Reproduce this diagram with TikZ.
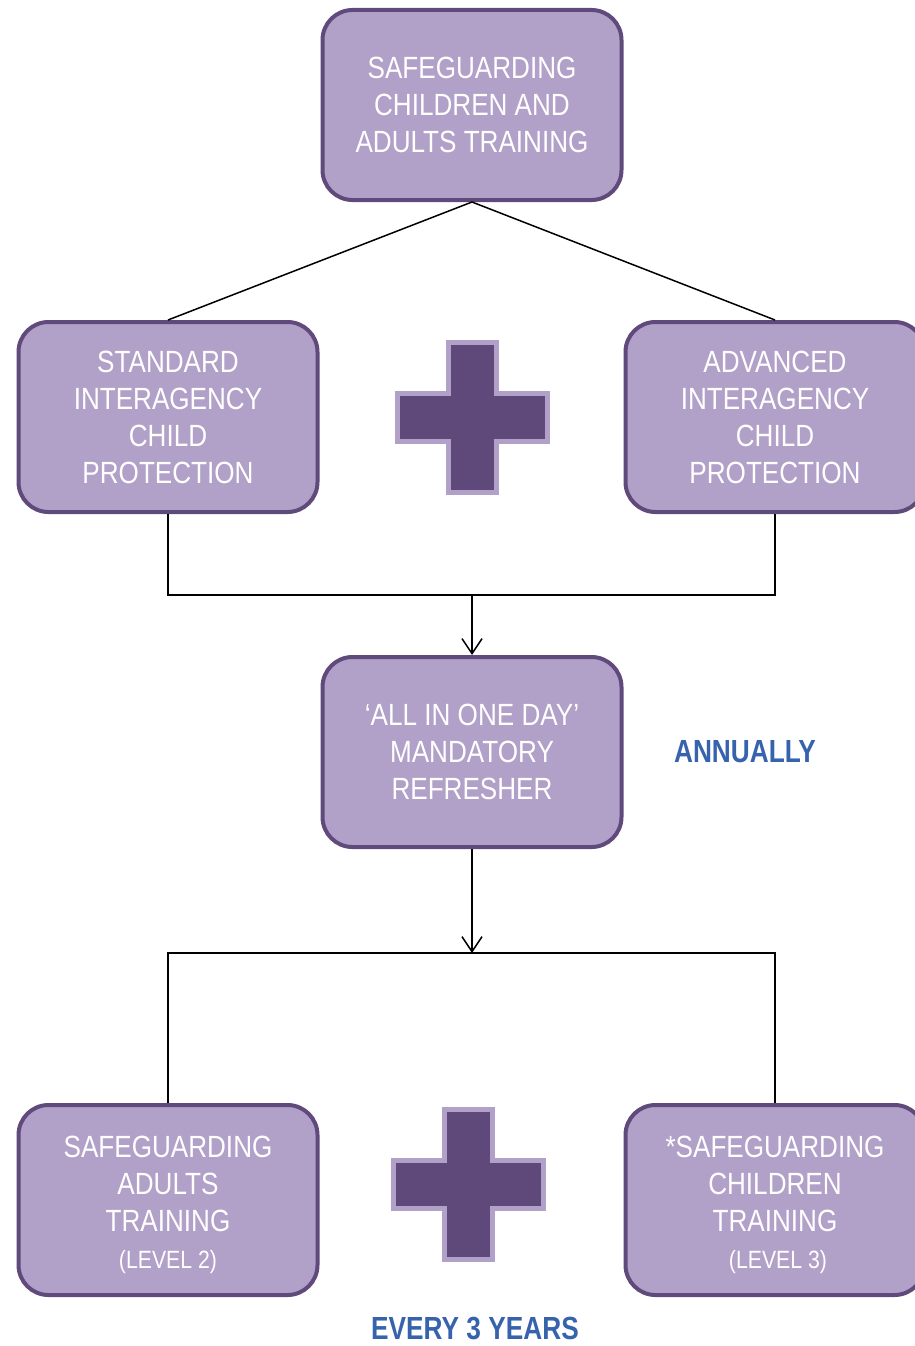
\documentclass[tikz,border=0pt]{standalone}
\usepackage{fontspec}
\setmainfont{Liberation Sans}[FakeStretch=0.85]
\newfontfamily\bannerfont{Liberation Sans}[FakeStretch=0.82]
\usepackage{tikz}
\usetikzlibrary{arrows.meta,positioning,shapes}
\definecolor{boxfill}{RGB}{177,160,199}
\definecolor{boxline}{RGB}{96,74,123}
\definecolor{plusfill}{RGB}{95,73,122}
\definecolor{bannerblue}{RGB}{55,98,172}

\begin{document}
\begin{tikzpicture}[x=1pt,y=-1pt,>={Straight Barb[length=15pt,width=20pt]},
line width=1.5pt,node distance=312pt]
\tikzstyle{box}=[rectangle,rounded corners=30pt,fill=boxfill,draw=boxline,line width=4pt,
minimum width=299pt,minimum height=190pt,text=white,align=center,
font=\fontsize{30.7}{37}\selectfont]
\tikzstyle{banner}=[text=bannerblue,font=\bannerfont\bfseries\fontsize{32}{34}\selectfont]
\tikzstyle{plusmark}=[fill=plusfill,draw=boxfill,line width=5pt]
\useasboundingbox (0,0) rectangle (914,1346);

\node[box] (top) at (472,105) {SAFEGUARDING\\CHILDREN AND\\ADULTS TRAINING};
\node[box] (std) [below of=top, xshift=-304pt] {STANDARD\\INTERAGENCY\\CHILD\\PROTECTION};
\node[box] (adv) [below of=top, xshift=303pt] {ADVANCED\\INTERAGENCY\\CHILD\\PROTECTION};
\node[box] (mid) [below of=top, node distance=647pt] {‘ALL IN ONE DAY’\\MANDATORY\\REFRESHER};
\node[box] (adl) [below of=mid, xshift=-304pt, node distance=448pt]
  {\rule{0pt}{32pt}SAFEGUARDING\\ADULTS\\TRAINING\\{\fontsize{25}{26}\selectfont (LEVEL 2)}};
\node[box] (chd) [below of=mid, xshift=303pt, node distance=448pt]
  {\rule{0pt}{32pt}*SAFEGUARDING\\CHILDREN\\TRAINING\\{\fontsize{25}{26}\selectfont\hspace{6pt}(LEVEL 3)}};

\node[banner] (ann) at (745,752) {ANNUALLY};
\node[banner] (yrs) at (475,1328) {EVERY 3 YEARS};

\foreach \cx/\cy in {472/417,468/1184}
  \draw[plusmark,shift={(\cx,\cy)}] (-24,-75) -- (24,-75) -- (24,-24) -- (75,-24) -- (75,24)
    -- (24,24) -- (24,75) -- (-24,75) -- (-24,24) -- (-75,24) -- (-75,-24) -- (-24,-24) -- cycle;

\coordinate (join1) at (472,595);
\coordinate (join2) at (472,953);

\draw (top.south) -- (std.north);
\draw (top.south) -- (adv.north);
\draw (std.south) -- (std.south |- join1) -- (adv.south |- join1) -- (adv.south);
\draw[->] (join1) -- (mid.north);
\draw[->] (mid.south) -- (join2);
\draw (adl.north) -- (adl.north |- join2) -- (chd.north |- join2) -- (chd.north);

\end{tikzpicture}
\end{document}
